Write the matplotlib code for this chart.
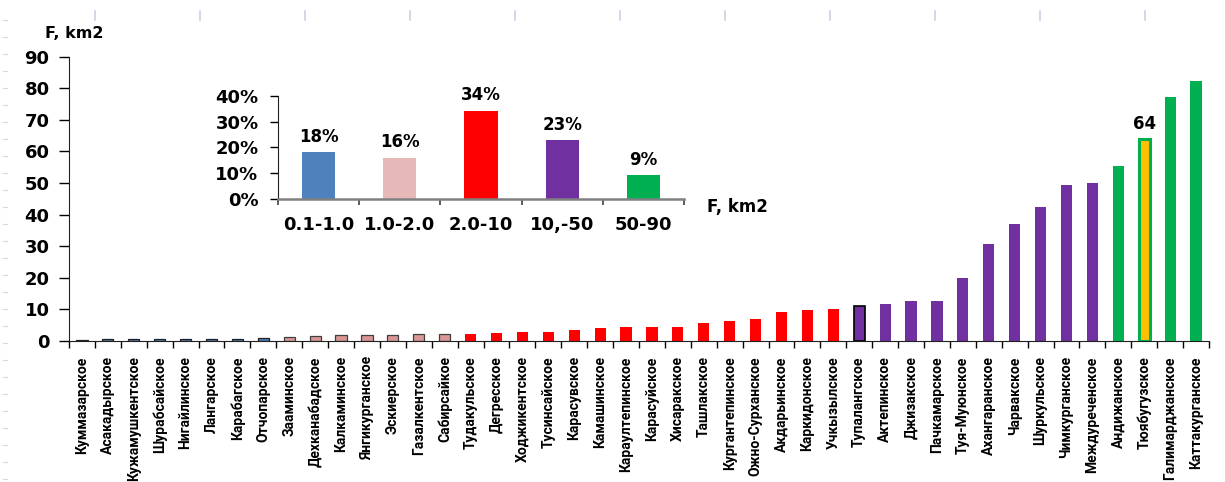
import matplotlib
matplotlib.use("Agg")
import matplotlib.pyplot as plt
from matplotlib.lines import Line2D
import numpy as np

# ---------------- data ----------------
names = ["Куммазарское", "Асакадырское", "Кужамушкентское", "Шурабсайское",
         "Нигайлинское", "Лангарское", "Карабагское", "Отчопарское",
         "Зааминское", "Дехканабадское", "Калкаминское", "Янгикурганское",
         "Эскиерское", "Газалкентское", "Сабирсайкое",
         "Тудакульское", "Дегресское", "Ходжикентское", "Тусинсайское",
         "Карасувское", "Камашинское", "Караултепинское", "Карасуйское",
         "Хисаракское", "Ташлакское", "Кургантепинское", "Ожно-Сурханское",
         "Акдарьинское", "Каркидонское", "Учкызылское",
         "Тупалангское", "Актепинское", "Джизакское", "Пачкамарское",
         "Туя-Муюнское", "Ахангаранское", "Чарвакское", "Шуркульское",
         "Чимкурганское", "Междуреченское",
         "Андижанское", "Тюябугузское", "Галимарджанское", "Каттакурганское"]
area = [0.2, 0.5, 0.5, 0.5, 0.7, 0.7, 0.7, 1.0,
        1.3, 1.6, 1.8, 1.8, 1.8, 2.1, 2.2,
        2.3, 2.6, 2.8, 2.8, 3.4, 4.0, 4.3, 4.3, 4.3, 5.6, 6.3, 6.9, 9.3, 9.8, 10.1,
        11.0, 11.7, 12.7, 12.7, 20.1, 30.7, 36.9, 42.4, 49.4, 50.0,
        55.5, 64.0, 77.4, 82.3]
group = [0] * 8 + [1] * 7 + [2] * 15 + [3] * 10 + [4] * 4

ranges = ["0.1-1.0", "1.0-2.0", "2.0-10", "10,-50", "50-90"]
share = [0.182, 0.159, 0.341, 0.227, 0.091]
share_lbl = ["18%", "16%", "34%", "23%", "9%"]

# ---------------- styles ----------------
main_fill = ["#4F81BD", "#D99694", "#FF0000", "#7030A0", "#00B050"]
main_edge = ["#202020", "#404040", "none", "none", "none"]
inset_col = ["#4F81BD", "#E6B9B8", "#FF0000", "#7030A0", "#00B050"]

plt.rcParams['font.family'] = ['DejaVu Sans']

fig = plt.figure(figsize=(12.25, 4.82), dpi=100)

# ---------------- main chart ----------------
ax = fig.add_axes([69 / 1225, 141 / 482, 1140 / 1225, 284.3 / 482])
x = np.arange(len(names))
fills = [main_fill[g] for g in group]
edges = [main_edge[g] for g in group]
bars = ax.bar(x, area, width=0.43, color=fills, edgecolor=edges, linewidth=0.9, zorder=2)

# highlighted bars
bars[30].set_edgecolor("#000000")
bars[30].set_linewidth(1.2)
bars[41].set_facecolor("#FFC000")
bars[41].set_edgecolor("#00B050")
bars[41].set_linewidth(2.2)
ax.text(x[41], area[41] + 1.8, "64", ha="center", va="bottom",
        fontsize=12, fontweight="bold")

ax.set_xlim(-0.5, len(names) - 0.5)
ax.set_ylim(0, 90)
ax.set_yticks(np.arange(0, 91, 10))
ax.tick_params(axis="y", length=7, width=1, pad=7, labelsize=13)
for t in ax.get_yticklabels():
    t.set_fontweight("bold")

ax.set_xticks(x)
ax.set_xticklabels(names, rotation=90, fontsize=10, fontweight="bold",
                   family=["Roboto", "DejaVu Sans"])
ax.tick_params(axis="x", length=0, pad=11)
ax.set_xticks(np.arange(-0.5, len(names), 1.0), minor=True)
ax.tick_params(axis="x", which="minor", length=5, width=1)

for s in ["top", "right"]:
    ax.spines[s].set_visible(False)
ax.spines["left"].set_color("#202020")
ax.spines["bottom"].set_color("#202020")

fig.text(45 / 1225, 1 - 33 / 482, "F, km2", ha="left", va="center",
         fontsize=11.5, fontweight="bold")

# ---------------- inset ----------------
ai = fig.add_axes([278 / 1225, 283 / 482, 406 / 1225, 103.3 / 482])
xi = np.arange(len(ranges))
ai.bar(xi, share, width=0.41, color=inset_col, zorder=2)
for xx, v, lbl in zip(xi, share, share_lbl):
    ai.text(xx, v + 0.025, lbl, ha="center", va="bottom",
            fontsize=12, fontweight="bold")
ai.set_xlim(-0.5, len(ranges) - 0.5)
ai.set_ylim(0, 0.4)
ai.set_yticks([0, 0.1, 0.2, 0.3, 0.4])
ai.set_yticklabels(["0%", "10%", "20%", "30%", "40%"])
ai.tick_params(axis="y", length=6, width=1, pad=8, labelsize=13)
ai.set_xticks(xi)
ai.set_xticklabels(ranges)
ai.tick_params(axis="x", length=0, pad=12, labelsize=13)
ai.set_xticks(np.arange(-0.5, len(ranges), 1.0), minor=True)
ai.tick_params(axis="x", which="minor", length=4, width=1.2, color="#404040")
for t in ai.get_xticklabels() + ai.get_yticklabels():
    t.set_fontweight("bold")
for s in ["top", "right"]:
    ai.spines[s].set_visible(False)
ai.spines["left"].set_color("#202020")
ai.spines["bottom"].set_color("#808080")
ai.spines["bottom"].set_linewidth(1.8)
ai.patch.set_alpha(0)

fig.text(707 / 1225, 1 - 207 / 482, "F, km2", ha="left", va="center",
         fontsize=12, fontweight="bold")

# faint ruler marks along the top and left edges of the scan
for px in range(95, 1150, 105):
    fig.add_artist(Line2D([px / 1225, px / 1225], [1 - 11 / 482, 1 - 20 / 482],
                          color="#C9D3E3", lw=1.2))
for py in range(20, 482, 17):
    fig.add_artist(Line2D([3 / 1225, 7 / 1225], [1 - py / 482, 1 - py / 482],
                          color="#D8D8D8", lw=0.8))

fig.savefig("out.png", dpi=100)
